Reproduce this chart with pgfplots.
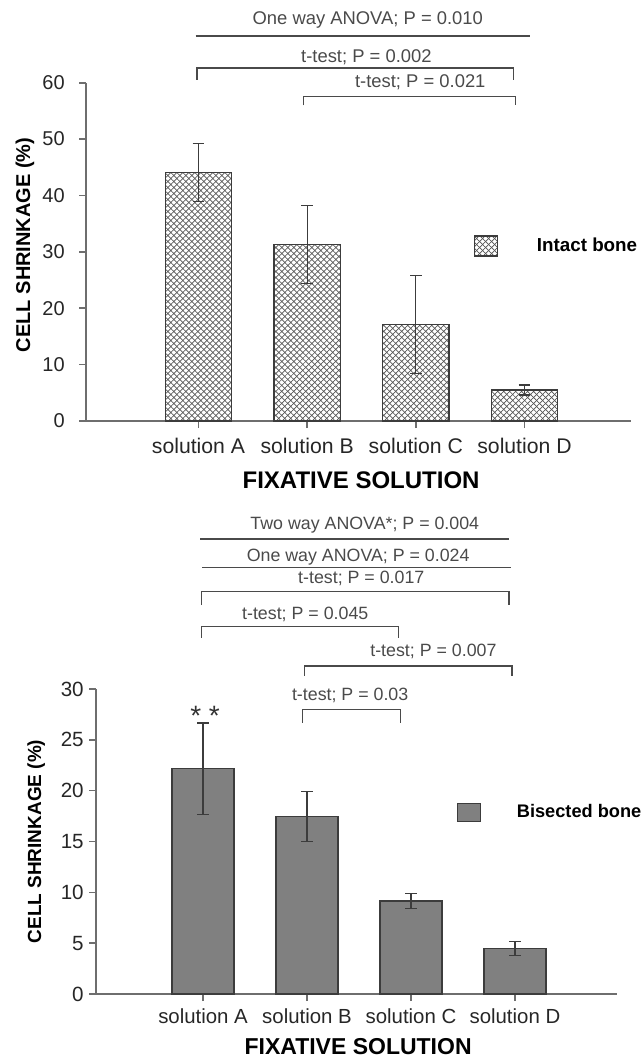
\documentclass[border=0pt]{standalone}
\usepackage{fontspec}
\setmainfont{Liberation Sans}
\usepackage{pgfplots}
\pgfplotsset{compat=1.18}
\usetikzlibrary{patterns.meta}

\definecolor{axisgray}{HTML}{6E6E6E}
\definecolor{annot}{HTML}{4A4A4A}
\definecolor{hatch}{HTML}{555555}
\definecolor{barfill}{HTML}{808080}
\definecolor{barline}{HTML}{3C3C3C}

\tikzset{
  ann/.style={text=annot, inner sep=0pt},
  annline/.style={annot, line width=0.6pt},
}

\pgfplotsset{
  shrink/.style={
    scale only axis, ybar, clip=false,
    axis x line*=bottom, axis y line*=left,
    axis line style={axisgray, line width=0.8pt},
    tick style={axisgray, line width=0.8pt},
    tick align=outside, major tick length=3.5pt,
    xtick={0,1,2,3},
    xticklabels={solution A, solution B, solution C, solution D},
    ymin=0,
    /pgf/number format/assume math mode=true,
    tick label style={text=black!85},
    yticklabel style={anchor=east, inner sep=0pt},
    xticklabel style={anchor=center},
    xlabel={\bfseries FIXATIVE SOLUTION},
    ylabel={\bfseries CELL SHRINKAGE (\%)},
    every axis x label/.style={anchor=center},
    every axis y label/.style={anchor=center, rotate=90},
    error bars/y dir=both, error bars/y explicit,
    error bars/error bar style={barline, line width=0.6pt},
    error bars/error mark options={rotate=90, barline, mark size=2.9pt, line width=0.6pt},
    legend style={draw=none, fill=none, inner sep=0pt, anchor=west,
      nodes={inner sep=0pt, font=\fontsize{9.4}{11}\selectfont\bfseries}},
  },
  toplegend/.style={legend image code/.code={\draw[##1] (0pt,-5pt) rectangle (11.5pt,5pt);}},
  botlegend/.style={legend image code/.code={\draw[##1] (0pt,-4.6pt) rectangle (11.3pt,4.6pt);}},
}

\begin{document}
\begin{tikzpicture}

% intact bone
\begin{axis}[shrink,
  at={(43.05pt,-210.5pt)}, anchor=south west,
  width=272.45pt, height=169.15pt,
  xmin=-1.034, xmax=3.98, ymax=60,
  ytick={0,10,20,30,40,50,60},
  bar width=0.61,
  yticklabel style={xshift=-7pt, font=\fontsize{10}{12}\selectfont},
  xticklabel style={yshift=-9pt, font=\fontsize{10.6}{12}\selectfont},
  xlabel style={at={(axis description cs:0.5046,-0.1744)}, font=\fontsize{12}{14}\selectfont},
  ylabel style={at={(axis description cs:-0.112,0.5207)}, font=\fontsize{10}{12}\selectfont},
  legend style={at={(axis description cs:0.7106,0.5173)}, column sep=19.5pt},
]
\addplot[draw=barline, line width=0.6pt, fill=white,
  postaction={pattern={Lines[angle=45,distance=2.12pt,line width=0.35pt]}, pattern color=hatch},
  postaction={pattern={Lines[angle=-45,distance=2.12pt,line width=0.35pt]}, pattern color=hatch},
  toplegend]
  coordinates {(0,44.1) +- (0,5.1) (1,31.3) +- (0,6.9) (2,17.1) +- (0,8.7) (3,5.5) +- (0,0.9)};
\addlegendentry{Intact bone}

\begin{scope}[font=\fontsize{9.2}{11}\selectfont]
\node[ann] at (1.558,71.1) {One way ANOVA; P = 0.010};
\draw[annline] (-0.027,68.3) -- (3.051,68.3);
\node[ann] at (1.545,64.6) {t-test; P = 0.002};
\draw[annline] (-0.013,60.5) |- (2.899,62.6) -- (2.899,60.5);
\node[ann] at (2.041,60.1) {t-test; P = 0.021};
\draw[annline] (0.968,56.0) |- (2.918,57.5) -- (2.918,56.0);
\end{scope}
\end{axis}

% bisected bone
\begin{axis}[shrink,
  at={(48.15pt,-497pt)}, anchor=south west,
  width=260.25pt, height=152.5pt,
  xmin=-1.027, xmax=3.98, ymax=30,
  ytick={0,5,10,15,20,25,30},
  bar width=0.596,
  yticklabel style={xshift=-2.6pt, font=\fontsize{10.3}{12}\selectfont},
  xticklabel style={yshift=-7.4pt, font=\fontsize{10.2}{12}\selectfont},
  xlabel style={at={(axis description cs:0.503,-0.1728)}, font=\fontsize{11.5}{14}\selectfont},
  ylabel style={at={(axis description cs:-0.1153,0.5)}, font=\fontsize{9.5}{12}\selectfont},
  legend style={at={(axis description cs:0.6924,0.5951)}, column sep=18pt,
    nodes={font=\fontsize{9.1}{11}\selectfont\bfseries}},
]
\addplot[draw=barline, line width=0.6pt, fill=barfill, botlegend]
  coordinates {(0,22.15) +- (0,4.5) (1,17.45) +- (0,2.45) (2,9.15) +- (0,0.75) (3,4.5) +- (0,0.7)};
\addlegendentry{Bisected bone}

\begin{scope}[font=\fontsize{8.9}{11}\selectfont]
\node[ann] at (1.556,46.13) {Two way ANOVA*; P = 0.004};
\draw[annline] (-0.029,44.75) -- (2.943,44.75);
\node[ann] at (1.492,43.01) {One way ANOVA; P = 0.024};
\draw[annline] (-0.010,41.97) -- (2.967,41.97);
\node[ann] at (1.522,40.89) {t-test; P = 0.017};
\draw[annline] (-0.018,38.26) |- (2.943,39.57) -- (2.943,38.26);
\node[ann] at (0.983,37.38) {t-test; P = 0.045};
\draw[annline] (-0.018,35.04) |- (1.883,36.13) -- (1.883,35.04);
\node[ann] at (2.216,33.67) {t-test; P = 0.007};
\draw[annline] (0.976,31.31) |- (2.971,32.26) -- (2.971,31.31);
\node[ann] at (1.415,29.41) {t-test; P = 0.03};
\draw[annline] (0.960,26.69) |- (1.902,28.0) -- (1.902,26.69);
\end{scope}
\node[inner sep=0pt, text=black!80, font=\fontsize{14}{14}\selectfont, yshift=-3pt] at (0.019,27.93) {* *};
\end{axis}

\pgfresetboundingbox
\path[use as bounding box] (0pt,0pt) rectangle (321pt,-528.5pt);
\end{tikzpicture}
\end{document}
